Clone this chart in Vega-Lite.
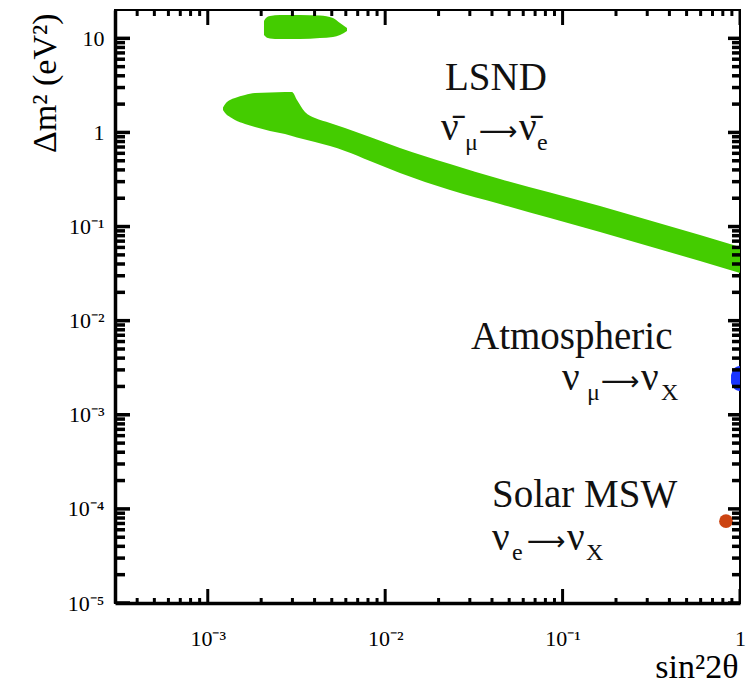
{
  "$schema": "https://vega.github.io/schema/vega-lite/v6.json",
  "width": 625,
  "height": 593,
  "autosize": {"type": "none"},
  "padding": {"left": 115, "top": 10, "right": 8, "bottom": 84},
  "background": "white",
  "config": {
    "view": {"stroke": "black", "strokeWidth": 2},
    "axis": {
      "grid": false, "ticks": false, "tickSize": 0,
      "domainColor": "black", "domainWidth": 3.5,
      "labelFont": "Liberation Serif", "labelFontSize": 22, "labelColor": "black",
      "labelOverlap": false, "labelFlush": false,
      "titleFont": "Liberation Serif", "titleFontSize": 34, "titleFontWeight": "normal", "titleColor": "black"
    },
    "axisX": {"labelPadding": 25},
    "axisY": {"labelPadding": 11}
  },
  "datasets": {
    "regions": [
      {"region": "LSND band", "s2t": 0.0012186, "hi": 1.840, "lo": 1.731},
      {"region": "LSND band", "s2t": 0.0012668, "hi": 2.054, "lo": 1.570},
      {"region": "LSND band", "s2t": 0.0013344, "hi": 2.211, "lo": 1.458},
      {"region": "LSND band", "s2t": 0.0014236, "hi": 2.322, "lo": 1.355},
      {"region": "LSND band", "s2t": 0.0016213, "hi": 2.499, "lo": 1.229},
      {"region": "LSND band", "s2t": 0.0018457, "hi": 2.624, "lo": 1.142},
      {"region": "LSND band", "s2t": 0.0022424, "hi": 2.657, "lo": 1.035},
      {"region": "LSND band", "s2t": 0.0027245, "hi": 2.689, "lo": 0.962},
      {"region": "LSND band", "s2t": 0.002983, "hi": 2.689, "lo": 0.916},
      {"region": "LSND band", "s2t": 0.0031836, "hi": 2.211, "lo": 0.883},
      {"region": "LSND band", "s2t": 0.0035318, "hi": 1.648, "lo": 0.841},
      {"region": "LSND band", "s2t": 0.004022, "hi": 1.423, "lo": 0.791},
      {"region": "LSND band", "s2t": 0.0048865, "hi": 1.259, "lo": 0.717},
      {"region": "LSND band", "s2t": 0.0059361, "hi": 1.114, "lo": 0.635},
      {"region": "LSND band", "s2t": 0.0082104, "hi": 0.894, "lo": 0.497},
      {"region": "LSND band", "s2t": 0.012117, "hi": 0.683, "lo": 0.3705},
      {"region": "LSND band", "s2t": 0.023204, "hi": 0.4618, "lo": 0.2444},
      {"region": "LSND band", "s2t": 0.044381, "hi": 0.3199, "lo": 0.1736},
      {"region": "LSND band", "s2t": 0.08495, "hi": 0.2299, "lo": 0.1232},
      {"region": "LSND band", "s2t": 0.16253, "hi": 0.1652, "lo": 0.08746},
      {"region": "LSND band", "s2t": 0.31104, "hi": 0.1159, "lo": 0.06133},
      {"region": "LSND band", "s2t": 0.5951, "hi": 0.08126, "lo": 0.04301},
      {"region": "LSND band", "s2t": 1.0, "hi": 0.06058, "lo": 0.03207},
      {"region": "LSND high", "s2t": 0.0020743, "hi": 15.28, "lo": 10.85},
      {"region": "LSND high", "s2t": 0.0021291, "hi": 16.44, "lo": 10.33},
      {"region": "LSND high", "s2t": 0.0022424, "hi": 17.27, "lo": 9.956},
      {"region": "LSND high", "s2t": 0.0025536, "hi": 17.70, "lo": 9.835},
      {"region": "LSND high", "s2t": 0.0033097, "hi": 17.70, "lo": 9.835},
      {"region": "LSND high", "s2t": 0.0042915, "hi": 17.48, "lo": 10.08},
      {"region": "LSND high", "s2t": 0.0050801, "hi": 16.44, "lo": 10.33},
      {"region": "LSND high", "s2t": 0.0055634, "hi": 14.55, "lo": 10.85},
      {"region": "LSND high", "s2t": 0.0060923, "hi": 12.87, "lo": 11.96},
      {"region": "Atmospheric", "s2t": 0.8901, "hi": 0.002643, "lo": 0.002173},
      {"region": "Atmospheric", "s2t": 0.9135, "hi": 0.002987, "lo": 0.001971},
      {"region": "Atmospheric", "s2t": 0.9497, "hi": 0.003214, "lo": 0.001831},
      {"region": "Atmospheric", "s2t": 1.0, "hi": 0.003294, "lo": 0.001787}
    ],
    "solar": [
      {"s2t": 0.834, "dm2": 0.000074}
    ],
    "labels": [
      {"t": "LSND", "x": 0.02174, "y": 2.8236, "k": "main"},
      {"t": "ν\u0304", "x": 0.02064, "y": 0.8309, "k": "main"},
      {"t": "⟶", "x": 0.03381, "y": 0.8309, "k": "arrow"},
      {"t": "ν\u0304", "x": 0.05679, "y": 0.8309, "k": "main"},
      {"t": "μ", "x": 0.02818, "y": 0.8309, "k": "sub"},
      {"t": "e", "x": 0.07174, "y": 0.8309, "k": "sub"},
      {"t": "Atmospheric", "x": 0.03047, "y": 0.004994, "k": "main"},
      {"t": "ν", "x": 0.09924, "y": 0.001831, "k": "main"},
      {"t": "⟶", "x": 0.16467, "y": 0.001831, "k": "arrow"},
      {"t": "ν", "x": 0.27675, "y": 0.001831, "k": "main"},
      {"t": "μ", "x": 0.13732, "y": 0.001831, "k": "sub"},
      {"t": "X", "x": 0.35868, "y": 0.001831, "k": "sub"},
      {"t": "Solar MSW", "x": 0.040004, "y": 0.00010457, "k": "main"},
      {"t": "ν", "x": 0.040004, "y": 0.00003651, "k": "main"},
      {"t": "⟶", "x": 0.06301, "y": 0.00003651, "k": "arrow"},
      {"t": "ν", "x": 0.1059, "y": 0.00003651, "k": "main"},
      {"t": "e", "x": 0.05187, "y": 0.00003651, "k": "sub"},
      {"t": "X", "x": 0.13552, "y": 0.00003651, "k": "sub"}
    ],
    "xticks": [
      {"v": 0.0003}, {"v": 0.0004}, {"v": 0.0005}, {"v": 0.0006}, {"v": 0.0007}, {"v": 0.0008}, {"v": 0.0009},
      {"v": 0.001}, {"v": 0.002}, {"v": 0.003}, {"v": 0.004}, {"v": 0.005}, {"v": 0.006}, {"v": 0.007}, {"v": 0.008}, {"v": 0.009},
      {"v": 0.01}, {"v": 0.02}, {"v": 0.03}, {"v": 0.04}, {"v": 0.05}, {"v": 0.06}, {"v": 0.07}, {"v": 0.08}, {"v": 0.09},
      {"v": 0.1}, {"v": 0.2}, {"v": 0.3}, {"v": 0.4}, {"v": 0.5}, {"v": 0.6}, {"v": 0.7}, {"v": 0.8}, {"v": 0.9},
      {"v": 1}
    ],
    "yticks": [
      {"v": 0.00001}, {"v": 0.00002}, {"v": 0.00003}, {"v": 0.00004}, {"v": 0.00005}, {"v": 0.00006}, {"v": 0.00007}, {"v": 0.00008}, {"v": 0.00009},
      {"v": 0.0001}, {"v": 0.0002}, {"v": 0.0003}, {"v": 0.0004}, {"v": 0.0005}, {"v": 0.0006}, {"v": 0.0007}, {"v": 0.0008}, {"v": 0.0009},
      {"v": 0.001}, {"v": 0.002}, {"v": 0.003}, {"v": 0.004}, {"v": 0.005}, {"v": 0.006}, {"v": 0.007}, {"v": 0.008}, {"v": 0.009},
      {"v": 0.01}, {"v": 0.02}, {"v": 0.03}, {"v": 0.04}, {"v": 0.05}, {"v": 0.06}, {"v": 0.07}, {"v": 0.08}, {"v": 0.09},
      {"v": 0.1}, {"v": 0.2}, {"v": 0.3}, {"v": 0.4}, {"v": 0.5}, {"v": 0.6}, {"v": 0.7}, {"v": 0.8}, {"v": 0.9},
      {"v": 1}, {"v": 2}, {"v": 3}, {"v": 4}, {"v": 5}, {"v": 6}, {"v": 7}, {"v": 8}, {"v": 9},
      {"v": 10}
    ]
  },
  "layer": [
    {
      "data": {"name": "regions"},
      "mark": {"type": "area", "interpolate": "monotone", "clip": true, "opacity": 1},
      "encoding": {
        "x": {
          "field": "s2t", "type": "quantitative",
          "scale": {"type": "log", "domain": [0.0003, 1], "nice": false},
          "axis": {
            "orient": "bottom",
            "values": [0.001, 0.01, 0.1, 1],
            "labelExpr": "datum.value == 1 ? '1' : datum.value == 0.1 ? '10⁻¹' : datum.value == 0.01 ? '10⁻²' : '10⁻³'",
            "grid": false, "ticks": false,
            "title": "sin²2θ",
            "titleAlign": "right", "titleBaseline": "alphabetic", "titleX": 623, "titleY": 74
          }
        },
        "y": {
          "field": "hi", "type": "quantitative", "stack": null,
          "scale": {"type": "log", "domain": [0.00001, 20], "nice": false},
          "axis": {
            "orient": "left",
            "values": [0.00001, 0.0001, 0.001, 0.01, 0.1, 1, 10],
            "labelExpr": "datum.value == 10 ? '10' : datum.value == 1 ? '1' : datum.value == 0.1 ? '10⁻¹' : datum.value == 0.01 ? '10⁻²' : datum.value == 0.001 ? '10⁻³' : datum.value == 0.0001 ? '10⁻⁴' : '10⁻⁵'",
            "grid": false, "ticks": false,
            "title": "Δm² (eV²)",
            "titleAngle": 270, "titleAlign": "right", "titleBaseline": "alphabetic", "titleX": -60, "titleY": 3
          }
        },
        "y2": {"field": "lo"},
        "detail": {"field": "region"},
        "color": {
          "field": "region", "type": "nominal",
          "scale": {"domain": ["LSND band", "LSND high", "Atmospheric"], "range": ["#44cc00", "#44cc00", "#1a35ff"]},
          "legend": null
        }
      }
    },
    {
      "data": {"name": "solar"},
      "mark": {"type": "point", "filled": true, "shape": "circle", "size": 190, "color": "#cc4411", "opacity": 1},
      "encoding": {
        "x": {"field": "s2t", "type": "quantitative", "scale": {"type": "log", "domain": [0.0003, 1], "nice": false}},
        "y": {"field": "dm2", "type": "quantitative", "scale": {"type": "log", "domain": [0.00001, 20], "nice": false}}
      }
    },
    {
      "data": {"name": "labels"},
      "transform": [{"filter": "datum.k == 'main'"}],
      "mark": {"type": "text", "align": "left", "baseline": "alphabetic", "font": "Liberation Serif", "fontSize": 39, "color": "#111111"},
      "encoding": {
        "x": {"field": "x", "type": "quantitative", "scale": {"type": "log", "domain": [0.0003, 1], "nice": false}},
        "y": {"field": "y", "type": "quantitative", "scale": {"type": "log", "domain": [0.00001, 20], "nice": false}},
        "text": {"field": "t"}
      }
    },
    {
      "data": {"name": "labels"},
      "transform": [{"filter": "datum.k == 'sub'"}],
      "mark": {"type": "text", "align": "left", "baseline": "alphabetic", "dy": 10, "font": "Liberation Serif", "fontSize": 24, "color": "#111111"},
      "encoding": {
        "x": {"field": "x", "type": "quantitative", "scale": {"type": "log", "domain": [0.0003, 1], "nice": false}},
        "y": {"field": "y", "type": "quantitative", "scale": {"type": "log", "domain": [0.00001, 20], "nice": false}},
        "text": {"field": "t"}
      }
    },
    {
      "data": {"name": "labels"},
      "transform": [{"filter": "datum.k == 'arrow'"}],
      "mark": {"type": "text", "align": "left", "baseline": "alphabetic", "font": "DejaVu Sans", "fontSize": 27, "color": "#111111"},
      "encoding": {
        "x": {"field": "x", "type": "quantitative", "scale": {"type": "log", "domain": [0.0003, 1], "nice": false}},
        "y": {"field": "y", "type": "quantitative", "scale": {"type": "log", "domain": [0.00001, 20], "nice": false}},
        "text": {"field": "t"}
      }
    },
    {
      "data": {"name": "xticks"},
      "mark": {"type": "tick", "orient": "vertical", "thickness": 3, "color": "black", "opacity": 1, "clip": true},
      "encoding": {
        "x": {"field": "v", "type": "quantitative", "scale": {"type": "log", "domain": [0.0003, 1], "nice": false}},
        "y": {"datum": 0.00001, "type": "quantitative", "scale": {"type": "log", "domain": [0.00001, 20], "nice": false}},
        "size": {"condition": {"test": "abs(log(datum.v)/LN10 - round(log(datum.v)/LN10)) < 0.0001", "value": 28}, "value": 10}
      }
    },
    {
      "data": {"name": "xticks"},
      "mark": {"type": "tick", "orient": "vertical", "thickness": 3, "color": "black", "opacity": 1, "clip": true},
      "encoding": {
        "x": {"field": "v", "type": "quantitative", "scale": {"type": "log", "domain": [0.0003, 1], "nice": false}},
        "y": {"datum": 20, "type": "quantitative", "scale": {"type": "log", "domain": [0.00001, 20], "nice": false}},
        "size": {"condition": {"test": "abs(log(datum.v)/LN10 - round(log(datum.v)/LN10)) < 0.0001", "value": 30}, "value": 12}
      }
    },
    {
      "data": {"name": "yticks"},
      "mark": {"type": "tick", "orient": "horizontal", "thickness": 3.5, "color": "black", "opacity": 1, "clip": true},
      "encoding": {
        "y": {"field": "v", "type": "quantitative", "scale": {"type": "log", "domain": [0.00001, 20], "nice": false}},
        "x": {"datum": 0.0003, "type": "quantitative", "scale": {"type": "log", "domain": [0.0003, 1], "nice": false}},
        "size": {"condition": {"test": "abs(log(datum.v)/LN10 - round(log(datum.v)/LN10)) < 0.0001", "value": 30}, "value": 20}
      }
    },
    {
      "data": {"name": "yticks"},
      "mark": {"type": "tick", "orient": "horizontal", "thickness": 3.5, "color": "black", "opacity": 1, "clip": true},
      "encoding": {
        "y": {"field": "v", "type": "quantitative", "scale": {"type": "log", "domain": [0.00001, 20], "nice": false}},
        "x": {"datum": 1, "type": "quantitative", "scale": {"type": "log", "domain": [0.0003, 1], "nice": false}},
        "size": {"condition": {"test": "abs(log(datum.v)/LN10 - round(log(datum.v)/LN10)) < 0.0001", "value": 24}, "value": 16}
      }
    }
  ]
}
